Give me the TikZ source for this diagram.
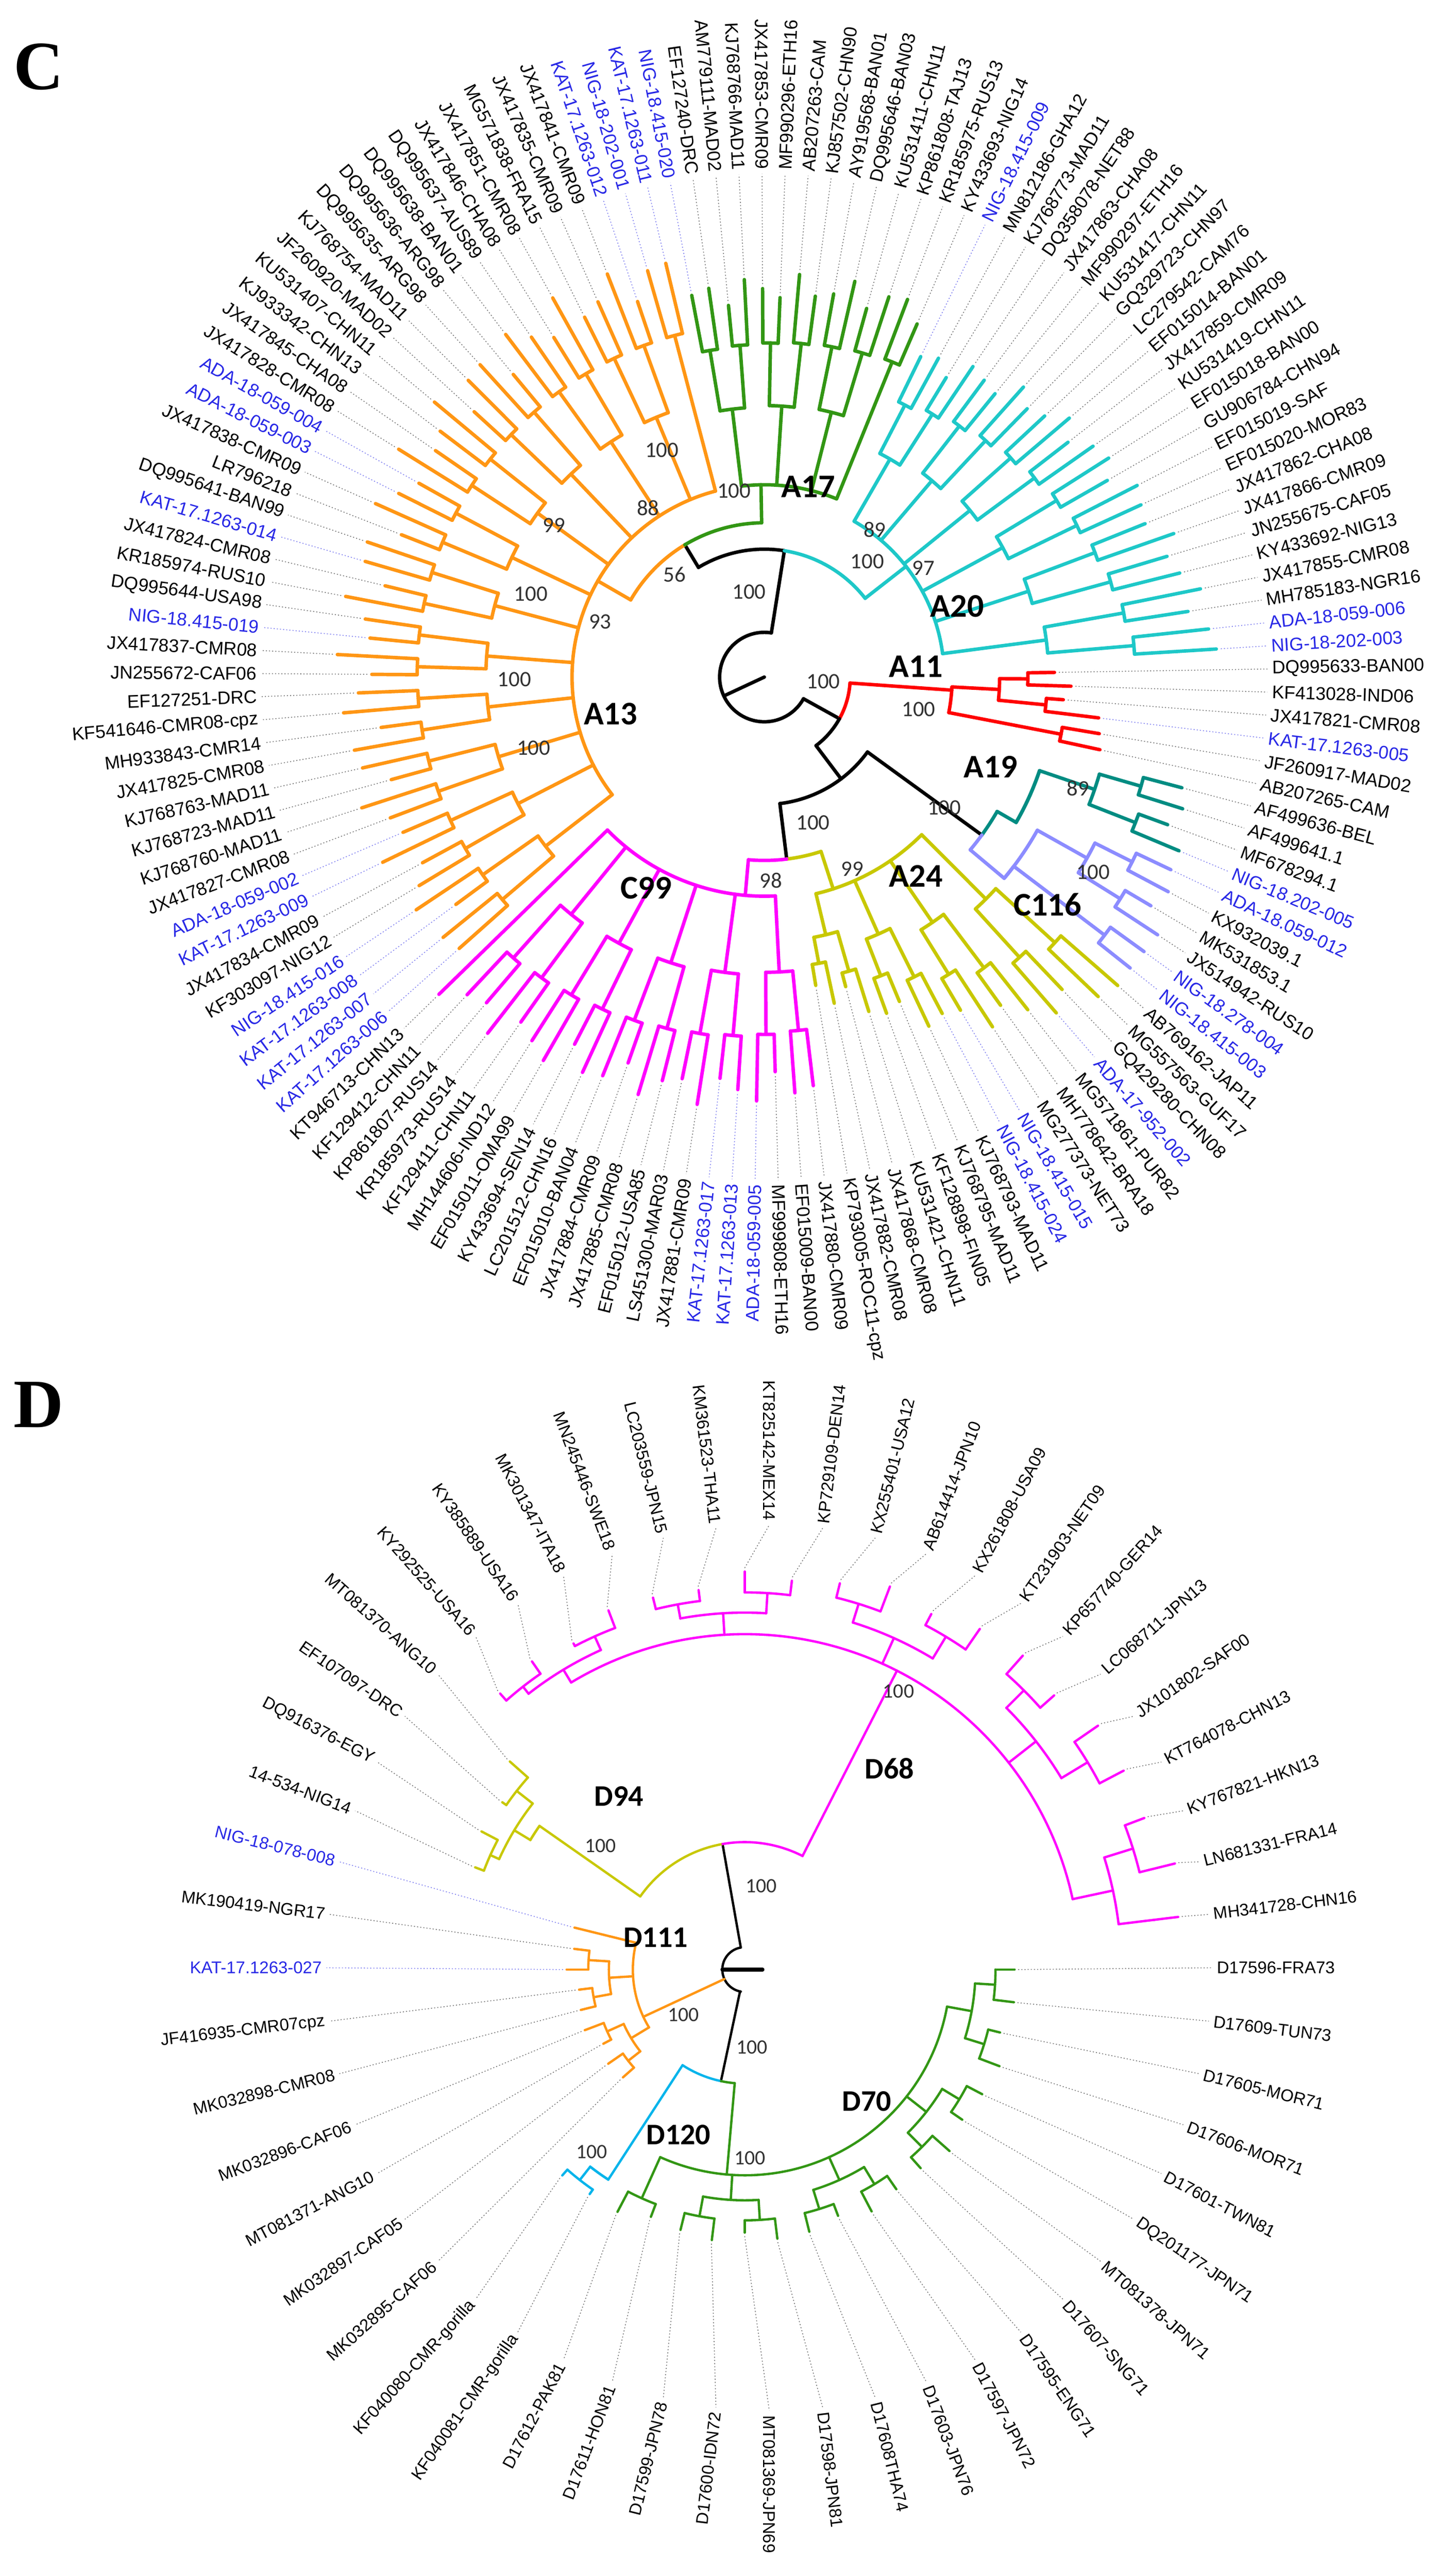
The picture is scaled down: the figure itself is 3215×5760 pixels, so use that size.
\documentclass[tikz,border=0pt]{standalone}
\usepackage{fontspec}
\setmainfont{Liberation Sans}
\newfontfamily\calfont{Carlito}
\newfontfamily\serfont{Liberation Serif}
\definecolor{corange}{RGB}{255,150,20}
\definecolor{cgreen}{RGB}{50,150,20}
\definecolor{ccyan}{RGB}{30,200,200}
\definecolor{cred}{RGB}{255,0,0}
\definecolor{cteal}{RGB}{0,140,130}
\definecolor{clav}{RGB}{140,140,255}
\definecolor{cyel}{RGB}{200,200,0}
\definecolor{cmag}{RGB}{255,0,255}
\definecolor{dcyan}{RGB}{0,180,235}
\definecolor{tblue}{RGB}{40,40,230}
\definecolor{numgray}{RGB}{50,50,50}
\newcommand\radial[6]{\pgfmathsetmacro\rxa{#2+(#5)*cos(#4)}\pgfmathsetmacro\rya{#3+(#5)*sin(#4)}\pgfmathsetmacro\rxb{#2+(#6)*cos(#4)}\pgfmathsetmacro\ryb{#3+(#6)*sin(#4)}\draw[#1] (\rxa,\rya) -- (\rxb,\ryb);}
\newcommand\carc[6]{\pgfmathsetmacro\rxa{#2+(#4)*cos(#5)}\pgfmathsetmacro\rya{#3+(#4)*sin(#5)}\pgfmathsetmacro\rrr{(#4)*0.1}\draw[#1] (\rxa,\rya) arc[start angle={#5}, end angle={#6}, radius=\rrr mm];}
% clade drawer: uses \cx \cy \tz \ts \tn \rb \ra \rtA \rtB \jit \stem \goff \gdir \gN \pfx
\newcommand\clade[1]{%
 \pgfmathtruncatemacro\last{\tn-1}%
 \pgfmathsetmacro\nm{max(\tn-1,1)}%
 \pgfmathtruncatemacro\lastc{floor(\last/2)}%
 \pgfmathtruncatemacro\lastq{floor(\lastc/2)}%
 \foreach \k in {0,...,\last}{%
   \pgfmathsetmacro\th{\tz-\k*\ts}%
   \pgfmathsetmacro\bs{\rtA+(\rtB-\rtA)*\k/\nm}%
   \pgfmathsetmacro\R{\bs+\jit*sin(\k*131+17)}%
   \pgfmathtruncatemacro\jj{floor(\k/2)}%
   \pgfmathsetmacro\rc{\ra+(\rtA+(\rtB-\rtA)*(2*\jj+0.5)/\nm-\ra)*0.72}%
   \radial{#1}{\cx}{\cy}{\th}{\rc}{\R}%
   \pgfmathtruncatemacro\gi{mod(\goff+\gdir*\k+10*\gN,\gN)}%
   \expandafter\xdef\csname tip\pfx\gi\endcsname{\R}%
 }%
 \foreach \jj in {0,...,\lastc}{%
   \pgfmathtruncatemacro\ka{2*\jj}\pgfmathtruncatemacro\kb{min(2*\jj+1,\last)}%
   \pgfmathsetmacro\angA{\tz-\ka*\ts}\pgfmathsetmacro\angB{\tz-\kb*\ts}%
   \pgfmathsetmacro\rc{\ra+(\rtA+(\rtB-\rtA)*(2*\jj+0.5)/\nm-\ra)*0.72}%
   \pgfmathtruncatemacro\qq{floor(\jj/2)}%
   \pgfmathsetmacro\rq{\ra+(\rtA+(\rtB-\rtA)*(4*\qq+1.5)/\nm-\ra)*0.4}%
   \carc{#1}{\cx}{\cy}{\rc}{\angA}{\angB}%
   \radial{#1}{\cx}{\cy}{(\angA+\angB)/2}{\rq}{\rc}%
 }%
 \foreach \qq in {0,...,\lastq}{%
   \pgfmathtruncatemacro\ca{2*\qq}\pgfmathtruncatemacro\cb{min(2*\qq+1,\lastc)}%
   \pgfmathsetmacro\angA{\tz-\ts*(2*\ca+min(2*\ca+1,\last))/2}%
   \pgfmathsetmacro\angB{\tz-\ts*(2*\cb+min(2*\cb+1,\last))/2}%
   \pgfmathsetmacro\rq{\ra+(\rtA+(\rtB-\rtA)*(4*\qq+1.5)/\nm-\ra)*0.4}%
   \carc{#1}{\cx}{\cy}{\rq}{\angA}{\angB}%
   \radial{#1}{\cx}{\cy}{(\angA+\angB)/2}{\ra}{\rq}%
 }%
 \pgfmathtruncatemacro\cb{min(1,\lastc)}%
 \pgfmathsetmacro\qA{(\tz-\ts*(0+min(1,\last))/2 + \tz-\ts*(2*\cb+min(2*\cb+1,\last))/2)/2}%
 \pgfmathtruncatemacro\ca{2*\lastq}\pgfmathtruncatemacro\cb{min(2*\lastq+1,\lastc)}%
 \pgfmathsetmacro\qB{(\tz-\ts*(2*\ca+min(2*\ca+1,\last))/2 + \tz-\ts*(2*\cb+min(2*\cb+1,\last))/2)/2}%
 \carc{#1}{\cx}{\cy}{\ra}{\stem}{\qA}%
 \carc{#1}{\cx}{\cy}{\ra}{\stem}{\qB}%
 \radial{#1}{\cx}{\cy}{\stem}{\rb}{\ra}%
}
\newcommand\setclade[9]{\def\tz{#1}\def\tn{#2}\def\rb{#3}\def\ra{#4}\def\rtA{#5}\def\rtB{#6}\def\jit{#7}\def\stem{#8}\def\goff{#9}}
\tikzset{
 ctree/.style={line width=2.2pt, line cap=round, line join=round},
 dtree/.style={line width=1.5pt, line cap=round, line join=round},
 lead k/.style={black!55, line width=0.5pt, dash pattern=on 0.7pt off 1.3pt},
 lead b/.style={tblue!60, line width=0.5pt, dash pattern=on 0.7pt off 1.3pt},
 lab k/.style={text=black},
 lab b/.style={text=tblue},
 clab/.style={font=\calfont\bfseries\fontsize{21}{22}\selectfont, inner sep=0},
 num/.style={font=\calfont\fontsize{14}{15}\selectfont, text=numgray, inner sep=0},
 dclab/.style={font=\calfont\bfseries\fontsize{19}{20}\selectfont, inner sep=0},
 dnum/.style={font=\calfont\fontsize{13}{14}\selectfont, text=numgray, inner sep=0},
 panel/.style={font=\serfont\bfseries\fontsize{44}{46}\selectfont, anchor=west, inner sep=0}
}
\begin{document}
\begin{tikzpicture}[x=0.1mm,y=0.1mm]
\useasboundingbox (0,0) rectangle (3215,5760);
\fill[white] (0,0) rectangle (3215,5760);
\node[panel] (pc) at (30,5610) {C};
\node[panel] (pd) at (30,2619) {D};
% ================= PANEL C =================
\def\cx{1709}\def\cy{4246}\def\ts{2.62774}\def\gdir{1}\def\gN{137}\def\pfx{C}
% backbone
\carc{ctree,black}{\cx}{\cy}{100}{81}{331}
\draw[ctree,black] (\cx,\cy) -- ++(205:100);
\radial{ctree,black}{\cx}{\cy}{81}{100}{286}
\carc{ctree,black}{\cx}{\cy}{286}{81}{121}
\radial{ctree,black}{\cx}{\cy}{121}{286}{345}
\carc{ctree,corange}{\cx}{\cy}{345}{121}{150}
\carc{ctree,cgreen}{\cx}{\cy}{345}{121}{91}
\carc{ctree,ccyan}{\cx}{\cy}{286}{81}{38}
\radial{ctree,black}{\cx}{\cy}{-29}{100}{192}
\carc{ctree,cred}{\cx}{\cy}{192}{-29}{-4}
\carc{ctree,black}{\cx}{\cy}{192}{-29}{-53}
\radial{ctree,black}{\cx}{\cy}{-53}{192}{285}
\carc{ctree,black}{\cx}{\cy}{285}{-53}{-36}
\radial{ctree,black}{\cx}{\cy}{-36}{285}{601}
\carc{ctree,cteal}{\cx}{\cy}{601}{-36}{-30}
\carc{ctree,clav}{\cx}{\cy}{601}{-36}{-40}
\carc{ctree,black}{\cx}{\cy}{285}{-53}{-83}
\radial{ctree,black}{\cx}{\cy}{-83}{285}{410}
\carc{ctree,cyel}{\cx}{\cy}{410}{-83}{-72}
\carc{ctree,cmag}{\cx}{\cy}{410}{-83}{-95}
% clades
\setclade{221.65}{46}{345}{430}{900}{930}{45}{150}{128}\clade{ctree,corange}
\setclade{100.77}{14}{345}{430}{860}{890}{30}{91}{37}\clade{ctree,cgreen}
\setclade{63.99}{24}{286}{402}{790}{1000}{25}{38}{51}\clade{ctree,ccyan}
\setclade{0.92}{6}{192}{420}{640}{790}{30}{-4}{75}\clade{ctree,cred}
\setclade{-14.85}{4}{601}{650}{960}{990}{20}{-30}{81}\clade{ctree,cteal}
\setclade{-25.36}{6}{601}{700}{1000}{1060}{20}{-40}{85}\clade{ctree,clav}
\setclade{-41.12}{16}{410}{498}{1040}{700}{30}{-72}{91}\clade{ctree,cyel}
\setclade{-83.17}{21}{410}{490}{910}{985}{35}{-95}{107}\clade{ctree,cmag}
% labels
\foreach \lab/\cl [count=\g from 0] in {KJ768760-MAD11/k,KJ768723-MAD11/k,KJ768763-MAD11/k,JX417825-CMR08/k,MH933843-CMR14/k,KF541646-CMR08-cpz/k,EF127251-DRC/k,JN255672-CAF06/k,JX417837-CMR08/k,NIG-18.415-019/b,DQ995644-USA98/k,KR185974-RUS10/k,JX417824-CMR08/k,KAT-17.1263-014/b,DQ995641-BAN99/k,LR796218/k,JX417838-CMR09/k,ADA-18-059-003/b,ADA-18-059-004/b,JX417828-CMR08/k,JX417845-CHA08/k,KJ933342-CHN13/k,KU531407-CHN11/k,JF260920-MAD02/k,KJ768754-MAD11/k,DQ995635-ARG98/k,DQ995636-ARG98/k,DQ995638-BAN01/k,DQ995637-AUS89/k,JX417846-CHA08/k,JX417851-CMR08/k,MG571838-FRA15/k,JX417835-CMR09/k,JX417841-CMR09/k,KAT-17.1263-012/b,NIG-18-202-001/b,KAT-17.1263-011/b,NIG-18.415-020/b,EF127240-DRC/k,AM779111-MAD02/k,KJ768766-MAD11/k,JX417853-CMR09/k,MF990296-ETH16/k,AB207263-CAM/k,KJ857502-CHN90/k,AY919568-BAN01/k,DQ995646-BAN03/k,KU531411-CHN11/k,KP861808-TAJ13/k,KR185975-RUS13/k,KY433693-NIG14/k,NIG-18.415-009/b,MN812186-GHA12/k,KJ768773-MAD11/k,DQ358078-NET88/k,JX417863-CHA08/k,MF990297-ETH16/k,KU531417-CHN11/k,GQ329723-CHN97/k,LC279542-CAM76/k,EF015014-BAN01/k,JX417859-CMR09/k,KU531419-CHN11/k,EF015018-BAN00/k,GU906784-CHN94/k,EF015019-SAF/k,EF015020-MOR83/k,JX417862-CHA08/k,JX417866-CMR09/k,JN255675-CAF05/k,KY433692-NIG13/k,JX417855-CMR08/k,MH785183-NGR16/k,ADA-18-059-006/b,NIG-18-202-003/b,DQ995633-BAN00/k,KF413028-IND06/k,JX417821-CMR08/k,KAT-17.1263-005/b,JF260917-MAD02/k,AB207265-CAM/k,AF499636-BEL/k,AF499641.1/k,MF678294.1/k,NIG-18.202-005/b,ADA-18.059-012/b,KX932039.1/k,MK531853.1/k,JX514942-RUS10/k,NIG-18.278-004/b,NIG-18.415-003/b,AB769162-JAP11/k,MG557563-GUF17/k,GQ429280-CHN08/k,ADA-17-952-002/b,MG571861-PUR82/k,MH778642-BRA18/k,MG277373-NET73/k,NIG-18.415-015/b,NIG-18.415-024/b,KJ768793-MAD11/k,KJ768795-MAD11/k,KF128898-FIN05/k,KU531421-CHN11/k,JX417868-CMR08/k,JX417882-CMR08/k,KP793005-ROC11-cpz/k,JX417880-CMR09/k,EF015009-BAN00/k,MF999808-ETH16/k,ADA-18-059-005/b,KAT-17.1263-013/b,KAT-17.1263-017/b,JX417881-CMR09/k,LS451300-MAR03/k,EF015012-USA85/k,JX417885-CMR08/k,JX417884-CMR09/k,EF015010-BAN04/k,LC201512-CHN16/k,KY433694-SEN14/k,EF015011-OMA99/k,MH144606-IND12/k,KF129411-CHN11/k,KR185973-RUS14/k,KP861807-RUS14/k,KF129412-CHN11/k,KT946713-CHN13/k,KAT-17.1263-006/b,KAT-17.1263-007/b,KAT-17.1263-008/b,NIG-18.415-016/b,KF303097-NIG12/k,JX417834-CMR09/k,KAT-17.1263-009/b,ADA-18-059-002/b,JX417827-CMR08/k}{
  \pgfmathsetmacro\th{198-\g*2.62774}
  \pgfmathsetmacro\thn{mod(\th+720,360)}
  \edef\tipr{\csname tipC\g\endcsname}
  \radial{lead \cl}{\cx}{\cy}{\th}{\tipr+10}{1125}
  \pgfmathsetmacro\px{\cx+1135*cos(\th)}
  \pgfmathsetmacro\py{\cy+1135*sin(\th)}
  \pgfmathtruncatemacro\flip{(\thn>90)&&(\thn<=270)}
  \ifnum\flip=1
    \node[lab \cl, font=\fontsize{11.6}{12}\selectfont, inner sep=0, anchor=east, rotate=\thn-180] (c\g) at (\px,\py) {\lab};
  \else
    \node[lab \cl, font=\fontsize{11.6}{12}\selectfont, inner sep=0, anchor=west, rotate=\thn] (c\g) at (\px,\py) {\lab};
  \fi
}
% clade names and supports
\node[clab] (nA17) at (1807,4672) {A17};
\node[clab] (nA13) at (1365,4164) {A13};
\node[clab] (nA20) at (2140,4404) {A20};
\node[clab] (nA11) at (2048,4270) {A11};
\node[clab] (nA19) at (2215,4045) {A19};
\node[clab] (nA24) at (2048,3801) {A24};
\node[clab] (nC99) at (1445,3774) {C99};
\node[clab] (nC116) at (2342,3737) {C116};
\node[num] at (1480,4753) {100};
\node[num] at (1449,4624) {88};
\node[num] at (1239,4585) {99};
\node[num] at (1641,4662) {100};
\node[num] at (1508,4475) {56};
\node[num] at (1675,4437) {100};
\node[num] at (1187,4432) {100};
\node[num] at (1342,4370) {93};
\node[num] at (1150,4241) {100};
\node[num] at (1193,4088) {100};
\node[num] at (1956,4576) {89};
\node[num] at (1939,4504) {100};
\node[num] at (2065,4490) {97};
\node[num] at (1841,4236) {100};
\node[num] at (2054,4174) {100};
\node[num] at (2410,3997) {89};
\node[num] at (2111,3954) {100};
\node[num] at (1818,3920) {100};
\node[num] at (2444,3810) {100};
\node[num] at (1724,3791) {98};
\node[num] at (1906,3817) {99};
% ================= PANEL D =================
\def\cx{1665}\def\cy{1356}\def\ts{6.923077}\def\gdir{-1}\def\gN{52}\def\pfx{D}
\def\lx{1720}\def\ly{1360}
\carc{dtree,black}{\cx}{\cy}{50}{100}{260}
\draw[dtree,black,line width=2.4pt] (\cx-50,\cy) -- (\cx+40,\cy);
\radial{dtree,black}{\cx}{\cy}{100}{50}{285}
\carc{dtree,cyel}{\cx}{\cy}{285}{100}{145}
\carc{dtree,cmag}{\cx}{\cy}{285}{100}{63}
\radial{dtree,black}{\cx}{\cy}{258}{50}{255}
\carc{dtree,dcyan}{\cx}{\cy}{255}{258}{237}
\carc{dtree,cgreen}{\cx}{\cy}{255}{258}{265}
\setclade{131.538}{19}{285}{750}{820}{985}{15}{63}{19}\clade{dtree,cmag}
\setclade{159.231}{4}{285}{560}{640}{690}{15}{145}{23}\clade{dtree,cyel}
\setclade{221.538}{9}{50}{250}{360}{395}{12}{205}{32}\clade{dtree,corange}
\setclade{235.385}{2}{255}{560}{610}{615}{0}{237}{34}\clade{dtree,dcyan}
\setclade{360}{18}{255}{460}{600}{600}{12}{265}{52}\clade{dtree,cgreen}
\foreach \lab/\cl [count=\g from 0] in {D17596-FRA73/k,MH341728-CHN16/k,LN681331-FRA14/k,KY767821-HKN13/k,KT764078-CHN13/k,JX101802-SAF00/k,LC068711-JPN13/k,KP657740-GER14/k,KT231903-NET09/k,KX261808-USA09/k,AB614414-JPN10/k,KX255401-USA12/k,KP729109-DEN14/k,KT825142-MEX14/k,KM361523-THA11/k,LC203559-JPN15/k,MN245446-SWE18/k,MK301347-ITA18/k,KY385889-USA16/k,KY292525-USA16/k,MT081370-ANG10/k,EF107097-DRC/k,DQ916376-EGY/k,14-534-NIG14/k,NIG-18-078-008/b,MK190419-NGR17/k,KAT-17.1263-027/b,JF416935-CMR07cpz/k,MK032898-CMR08/k,MK032896-CAF06/k,MT081371-ANG10/k,MK032897-CAF05/k,MK032895-CAF06/k,KF040080-CMR-gorilla/k,KF040081-CMR-gorilla/k,D17612-PAK81/k,D17611-HON81/k,D17599-JPN78/k,D17600-IDN72/k,MT081369-JPN69/k,D17598-JPN81/k,D17608THA74/k,D17603-JPN76/k,D17597-JPN72/k,D17595-ENG71/k,D17607-SNG71/k,MT081378-JPN71/k,DQ201177-JPN71/k,D17601-TWN81/k,D17606-MOR71/k,D17605-MOR71/k,D17609-TUN73/k}{
  \pgfmathsetmacro\th{\g*6.923077}
  \pgfmathsetmacro\thn{mod(\th+720,360)}
  \edef\tipr{\csname tipD\g\endcsname}
  \pgfmathsetmacro\ax{\cx+(\tipr+8)*cos(\th)}
  \pgfmathsetmacro\ay{\cy+(\tipr+8)*sin(\th)}
  \pgfmathsetmacro\bx{\lx+990*cos(\th)}
  \pgfmathsetmacro\by{\ly+990*sin(\th)}
  \draw[lead \cl] (\ax,\ay) -- (\bx,\by);
  \pgfmathsetmacro\px{\lx+1000*cos(\th)}
  \pgfmathsetmacro\py{\ly+1000*sin(\th)}
  \pgfmathtruncatemacro\flip{(\thn>90)&&(\thn<=270)}
  \ifnum\flip=1
    \node[lab \cl, font=\fontsize{10.8}{11}\selectfont, inner sep=0, anchor=east, rotate=\thn-180] (d\g) at (\px,\py) {\lab};
  \else
    \node[lab \cl, font=\fontsize{10.8}{11}\selectfont, inner sep=0, anchor=west, rotate=\thn] (d\g) at (\px,\py) {\lab};
  \fi
}
\node[dclab] (nD94) at (1384,1743) {D94};
\node[dclab] (nD68) at (1989,1806) {D68};
\node[dclab] (nD111) at (1466,1428) {D111};
\node[dclab] (nD70) at (1938,1061) {D70};
\node[dclab] (nD120) at (1517,987) {D120};
\node[dnum] at (2009,1978) {100};
\node[dnum] at (1343,1633) {100};
\node[dnum] at (1702,1543) {100};
\node[dnum] at (1528,1255) {100};
\node[dnum] at (1681,1182) {100};
\node[dnum] at (1323,948) {100};
\node[dnum] at (1677,935) {100};
\end{tikzpicture}
\end{document}
